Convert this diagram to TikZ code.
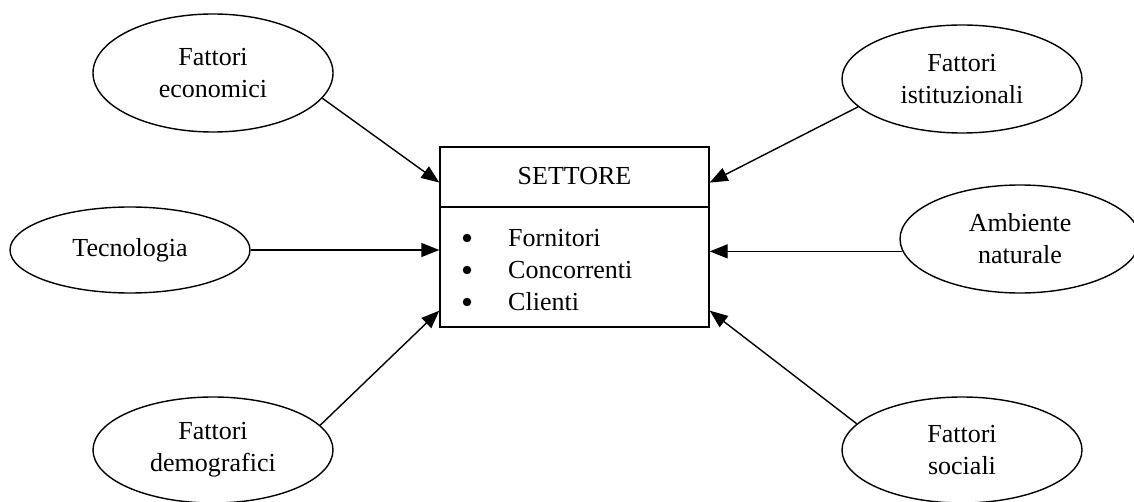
\documentclass[tikz,border=0pt]{standalone}
\usepackage{fontspec}
\setmainfont{Liberation Serif}
\usetikzlibrary{shapes.geometric,arrows.meta,calc}
\begin{document}
\begin{tikzpicture}[x=1pt,y=-1pt,
  every node/.style={font=\fontsize{26}{32}\selectfont},
  oval/.style={draw,ellipse,line width=1.4pt,minimum width=240pt,minimum height=110pt,inner sep=0pt,align=center},
  box/.style={draw,rectangle,line width=1.4pt,minimum width=269pt,minimum height=180pt,inner sep=0pt},
  divline/.style={line width=1.4pt},
  bul/.style={circle,fill=black,inner sep=0pt,minimum size=8.5pt},
  item/.style={anchor=base west,inner sep=0pt},
  arr/.style={line width=1.4pt,-{Triangle[length=18pt,width=14pt]}}]
\useasboundingbox (0,0) rectangle (1134,502);
\node[oval,minimum height=118pt] (eco) at (213,73) {Fattori\\economici};
\node[oval,minimum height=86pt] (tec) at (130,250) {Tecnologia};
\node[oval,minimum height=106pt] (dem) at (213,450) {Fattori\\demografici};
\node[oval,minimum height=108pt] (ist) at (962,79) {Fattori\\istituzionali};
\node[oval,minimum height=108pt] (amb) at (1020,239) {Ambiente\\naturale};
\node[oval,minimum height=106pt] (soc) at (962,450) {Fattori\\sociali};
\node[box] (set) at (574.5,237) {};
\coordinate (div) at (0,207);
\draw[divline] (set.west |- div) -- (set.east |- div);
\node[inner sep=0pt] (title) at (574.5,176) {SETTORE};
\node[bul] (b1) at (467,238) {};
\node[bul] (b2) at (467,270) {};
\node[bul] (b3) at (467,302) {};
\node[item] (t1) at (508,247) {Fornitori};
\node[item] (t2) at (508,279) {Concorrenti};
\node[item] (t3) at (508,311) {Clienti};
\coordinate (tl) at ($(set.north west)!0.2!(set.south west)$);
\coordinate (bl) at ($(set.north west)!0.906!(set.south west)$);
\coordinate (tr) at ($(set.north east)!0.2!(set.south east)$);
\coordinate (br) at ($(set.north east)!0.906!(set.south east)$);
\draw[arr] (eco.-13) -- (tl);
\draw[arr] (tec.east) -- (tec.east -| set.west);
\draw[arr] (dem.13) -- (bl);
\draw[arr] (ist.195) -- (tr);
\draw[arr] (amb.186) -- (amb.186 -| set.east);
\draw[arr] (soc.166) -- (br);
\end{tikzpicture}
\end{document}
